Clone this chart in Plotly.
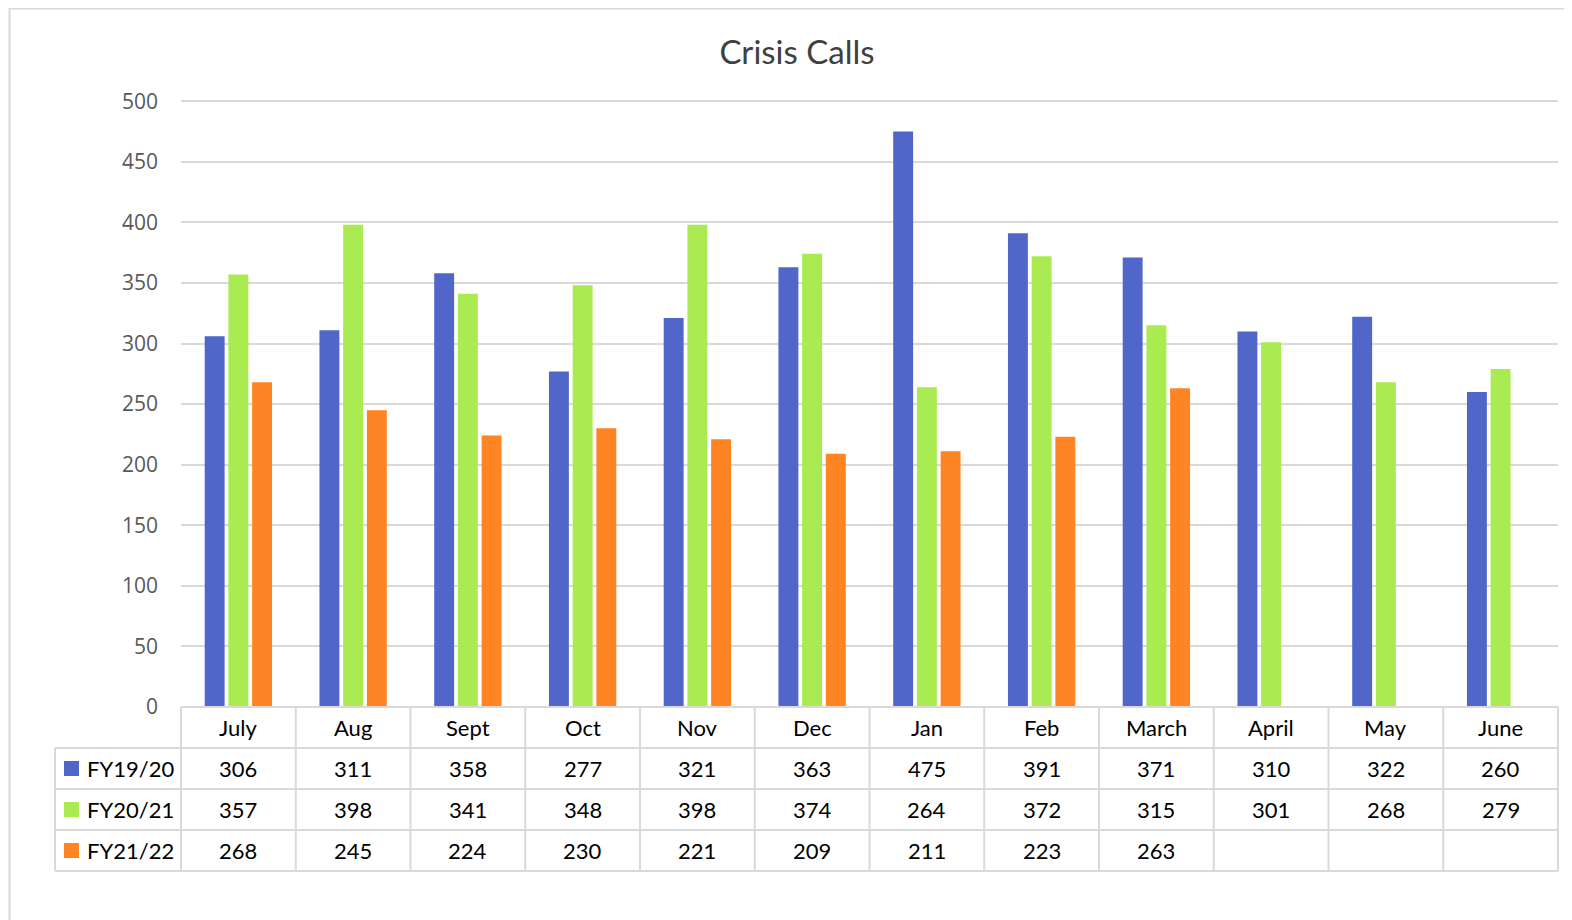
import plotly.graph_objects as go

months = ["July", "Aug", "Sept", "Oct", "Nov", "Dec", "Jan", "Feb", "March", "April", "May", "June"]
series_names = ["FY19/20", "FY20/21", "FY21/22"]
fy1920 = [306, 311, 358, 277, 321, 363, 475, 391, 371, 310, 322, 260]
fy2021 = [357, 398, 341, 348, 398, 374, 264, 372, 315, 301, 268, 279]
fy2122 = [268, 245, 224, 230, 221, 209, 211, 223, 263, None, None, None]
colors = ["#5067c9", "#a9eb51", "#ff8424"]

series = [fy1920, fy2021, fy2122]

# figure size / margins (page body adds 8px offset)
W, H = 1564, 912
L, R, T, B = 173, 14, 92, 213
plot_w = W - L - R
plot_h = H - T - B
row_h = 41
left_col = 126
grid_c = "#d9d9d9"
font_fam = "Lato, 'Open Sans', sans-serif"

fig = go.Figure()
for name, vals, c in zip(series_names, series, colors):
    fig.add_trace(go.Bar(x=months, y=vals, name=name, marker=dict(color=c, line=dict(width=0)),
                         showlegend=False))

shapes = []
annotations = []

def py(pix):
    # pixel offset below plot bottom -> paper y
    return -pix / plot_h

def dx(pix):
    # pixel offset from plot left -> x domain
    return pix / plot_w

n = len(months)
line_style = dict(color=grid_c, width=2)
# horizontal table lines
shapes.append(dict(type="line", xref="x domain", yref="paper", x0=0, x1=1, y0=0, y1=0, line=line_style))
for k in range(1, 5):
    shapes.append(dict(type="line", xref="x domain", yref="paper", x0=dx(-left_col), x1=1,
                       y0=py(k * row_h), y1=py(k * row_h), line=line_style))
# vertical table lines
for i in range(n + 1):
    shapes.append(dict(type="line", xref="x domain", yref="paper", x0=i / n, x1=i / n,
                       y0=0, y1=py(4 * row_h), line=line_style))
shapes.append(dict(type="line", xref="x domain", yref="paper", x0=dx(-left_col), x1=dx(-left_col),
                   y0=py(row_h), y1=py(4 * row_h), line=line_style))

cell_font = dict(family=font_fam, size=22, color="#000000")

# header row: month names
for m in months:
    annotations.append(dict(x=m, xref="x", y=py(row_h / 2), yref="paper", text=m, showarrow=False,
                            xanchor="center", yanchor="middle", font=cell_font))

# value rows + legend keys
for k, (name, vals, c) in enumerate(zip(series_names, series, colors)):
    yc = py((k + 1) * row_h + row_h / 2)
    for m, v in zip(months, vals):
        if v is None:
            continue
        annotations.append(dict(x=m, xref="x", y=yc, yref="paper", text=str(v), showarrow=False,
                                xanchor="center", yanchor="middle", font=cell_font))
    shapes.append(dict(type="rect", xref="x domain", yref="paper", x0=dx(-117), x1=dx(-102),
                       y0=yc - 7.5 / plot_h, y1=yc + 7.5 / plot_h, fillcolor=c, line=dict(width=0)))
    annotations.append(dict(x=dx(-96), xref="x domain", y=yc, yref="paper", text=name, showarrow=False,
                            xanchor="left", yanchor="middle", font=cell_font))

# outer chart border
shapes.append(dict(type="rect", xref="x domain", yref="paper", x0=dx(1.5 - L), x1=dx(W + 20 - L),
                   y0=py(B + 20), y1=(plot_h + T - 0.5) / plot_h, line=line_style,
                   fillcolor="rgba(0,0,0,0)", layer="below"))

fig.update_layout(
    width=W, height=H,
    margin=dict(l=L, r=R, t=T, b=B),
    paper_bgcolor="white", plot_bgcolor="white",
    barmode="group", bargap=0.38, bargroupgap=0.16,
    title=dict(text="Crisis Calls", x=(797 - 8) / W, xanchor="center", y=1 - 44 / H, yanchor="middle",
               font=dict(family=font_fam, size=33, color="#404040")),
    font=dict(family=font_fam),
    xaxis=dict(showticklabels=False, showgrid=False, zeroline=False, showline=False, ticks=""),
    yaxis=dict(range=[0, 501], tickvals=list(range(0, 501, 50)), showgrid=True, gridcolor=grid_c,
               gridwidth=1.5, zeroline=False, showline=False, ticks="", ticklabelstandoff=22,
               tickfont=dict(family="'Open Sans', sans-serif", size=21, color="#595959")),
    shapes=shapes,
    annotations=annotations,
)

fig.write_html("out.html")
